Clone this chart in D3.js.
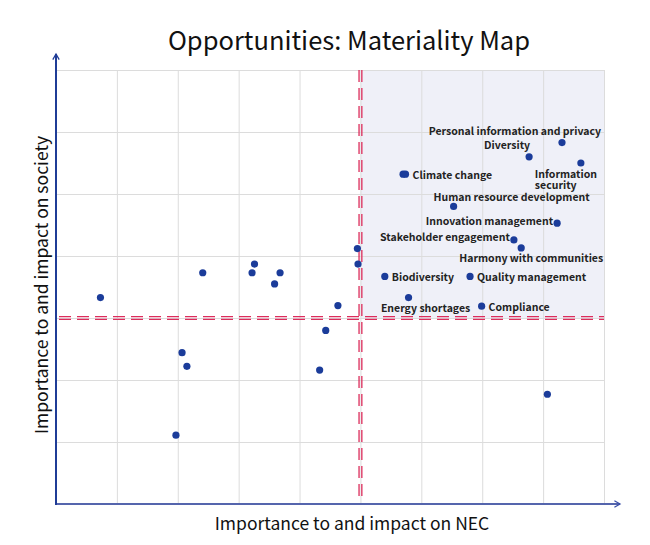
<!DOCTYPE html>
<html>
<head>
<meta charset="utf-8">
<script src="https://cdn.jsdelivr.net/npm/d3@7"></script>
<style>
  body { margin: 0; background: #fff; }
  svg { display: block; font-family: "Noto Sans CJK JP", "Noto Sans", sans-serif; }
</style>
</head>
<body>
<svg></svg>
<script>
// ==================================================
// chart data

const titleText = "Opportunities: Materiality Map";
const xLabel = "Importance to and impact on NEC";
const yLabel = "Importance to and impact on society";

const names = [
    "", "", "", "", "", "", "", "", "", "", "", "", "", "",
    "Personal information and privacy", "Diversity", "Information security",
    "", "Climate change", "Human resource development", "Innovation management",
    "Stakeholder engagement", "Harmony with communities", "Biodiversity",
    "Quality management", "Energy shortages", "Compliance", ""
];
const xVals = [
    0.73, 1.97, 2.07, 2.15, 2.41, 3.22, 3.26, 3.59, 3.68, 4.33, 4.43, 4.63, 4.95, 4.96,
    8.31, 7.77, 8.62,
    5.70, 5.74, 6.53, 8.23,
    7.52, 7.64, 5.40,
    6.80, 5.79, 6.99, 8.07
];
const yVals = [
    3.33, 1.11, 2.44, 2.22, 3.73, 3.73, 3.87, 3.55, 3.73, 2.16, 2.80, 3.20, 4.12, 3.87,
    5.83, 5.60, 5.50,
    5.32, 5.32, 4.80, 4.53,
    4.26, 4.13, 3.67,
    3.67, 3.33, 3.19, 1.77
];

const xDomain = [0, 9];
const yDomain = [0, 7];
const xSplit = 5;
const ySplit = 3;

// label placement: where each label sits relative to its point
const labelPlace = {
    "Personal information and privacy": "above-end",
    "Diversity": "above-end",
    "Information security": "below-start",
    "Climate change": "right",
    "Human resource development": "above",
    "Innovation management": "left",
    "Stakeholder engagement": "left",
    "Harmony with communities": "below",
    "Biodiversity": "right",
    "Quality management": "right",
    "Energy shortages": "below",
    "Compliance": "right"
};

// ==================================================

const width = 650, height = 545;
const margin = {top: 70, right: 46, bottom: 41, left: 56};
const innerW = width - margin.left - margin.right;
const innerH = height - margin.top - margin.bottom;

const svg = d3.select("svg").attr("width", width).attr("height", height);

const x = d3.scaleLinear().domain(xDomain).range([margin.left, margin.left + innerW]);
const y = d3.scaleLinear().domain(yDomain).range([margin.top + innerH, margin.top]);

const points = names.map((n, i) => ({name: n, x: xVals[i], y: yVals[i]}));

// shaded quadrant
svg.append("rect")
    .attr("x", x(xSplit)).attr("y", y(yDomain[1]))
    .attr("width", x(xDomain[1]) - x(xSplit))
    .attr("height", y(ySplit) - y(yDomain[1]))
    .attr("fill", "#eff0f8");

// grid
svg.append("g")
    .attr("transform", `translate(0,${margin.top + innerH})`)
    .call(d3.axisBottom(x).ticks(9).tickSize(-innerH).tickFormat(""))
    .call(g => g.select(".domain").remove())
    .call(g => g.selectAll(".tick line").attr("stroke", "#dcdcdc"));

svg.append("g")
    .attr("transform", `translate(${margin.left},0)`)
    .call(d3.axisLeft(y).ticks(7).tickSize(-innerW).tickFormat(""))
    .call(g => g.select(".domain").remove())
    .call(g => g.selectAll(".tick line").attr("stroke", "#dcdcdc"));

// split lines (double red dashes)
const red = "#dc2d5c";
[-1.4, 1.4].forEach(off => {
    svg.append("line")
        .attr("x1", x(xSplit) + off).attr("x2", x(xSplit) + off)
        .attr("y1", y(yDomain[1])).attr("y2", y(0) - 3)
        .attr("stroke", red).attr("stroke-width", 1.3)
        .attr("stroke-dasharray", "12,6");
    svg.append("line")
        .attr("x1", x(0) + 3).attr("x2", x(xDomain[1]))
        .attr("y1", y(ySplit) + off).attr("y2", y(ySplit) + off)
        .attr("stroke", red).attr("stroke-width", 1.3)
        .attr("stroke-dasharray", "12,6");
});

// axes with arrows
const defs = svg.append("defs");
function arrow(id, color) {
    defs.append("marker")
        .attr("id", id)
        .attr("viewBox", "0 0 10 10")
        .attr("refX", 8).attr("refY", 5)
        .attr("markerWidth", 8).attr("markerHeight", 8)
        .attr("markerUnits", "userSpaceOnUse")
        .attr("orient", "auto")
        .append("path")
        .attr("d", "M1,1 L8,5 L1,9")
        .attr("fill", "none")
        .attr("stroke", color)
        .attr("stroke-width", 1.6);
}
arrow("arrX", "#3a4fa8");
arrow("arrY", "#1f3c96");

svg.append("line")
    .attr("x1", x(0)).attr("x2", 620)
    .attr("y1", y(0)).attr("y2", y(0))
    .attr("stroke", "#5565ad").attr("stroke-width", 2)
    .attr("marker-end", "url(#arrX)");

svg.append("line")
    .attr("x1", x(0)).attr("x2", x(0))
    .attr("y1", y(0) + 1).attr("y2", 54)
    .attr("stroke", "#1f3c96").attr("stroke-width", 2)
    .attr("marker-end", "url(#arrY)");

// points
svg.append("g")
    .selectAll("circle")
    .data(points)
    .join("circle")
    .attr("cx", d => x(d.x))
    .attr("cy", d => y(d.y))
    .attr("r", 3.6)
    .attr("fill", "#1b3c9a");

// labels
function labelAttrs(d) {
    const px = x(d.x), py = y(d.y);
    switch (labelPlace[d.name]) {
    case "right": return {x: px + 7, y: py, anchor: "start"};
    case "left": return {x: px - 4, y: py - 3, anchor: "end"};
    case "above": return {x: px + 58, y: py - 10, anchor: "middle"};
    case "above-end": return {x: px + (d.name === "Diversity" ? 1 : 39), y: py - 12, anchor: "end"};
    case "below": return {x: px + (d.name === "Energy shortages" ? 17 : 10), y: py + 10, anchor: "middle"};
    case "below-start": return {x: px - 46, y: py + 10, anchor: "start"};
    }
    return {x: px, y: py, anchor: "start"};
}

// one text per line, long names wrapped where the reference wraps them
const wrapAt = {"Information security": ["Information", "security"]};
const labelLines = [];
points.filter(d => d.name).forEach(d => {
    const a = labelAttrs(d);
    (wrapAt[d.name] || [d.name]).forEach((s, i) => {
        labelLines.push({text: s, x: a.x, y: a.y + i * 11, anchor: a.anchor});
    });
});

svg.append("g")
    .selectAll("text")
    .data(labelLines)
    .join("text")
    .attr("x", d => d.x)
    .attr("y", d => d.y)
    .attr("text-anchor", d => d.anchor)
    .attr("dominant-baseline", "central")
    .attr("font-size", 10.5)
    .attr("font-weight", "bold")
    .attr("fill", "#222")
    .text(d => d.text);

// titles
svg.append("text")
    .attr("x", 349).attr("y", 38)
    .attr("text-anchor", "middle")
    .attr("dominant-baseline", "central")
    .attr("font-size", 25.5)
    .attr("fill", "#111")
    .text(titleText);

svg.append("text")
    .attr("x", 352).attr("y", 522)
    .attr("text-anchor", "middle")
    .attr("dominant-baseline", "central")
    .attr("font-size", 17.5)
    .attr("fill", "#111")
    .text(xLabel);

svg.append("text")
    .attr("transform", "translate(40,285) rotate(-90)")
    .attr("text-anchor", "middle")
    .attr("dominant-baseline", "central")
    .attr("font-size", 17.5)
    .attr("fill", "#111")
    .text(yLabel);
</script>
</body>
</html>
